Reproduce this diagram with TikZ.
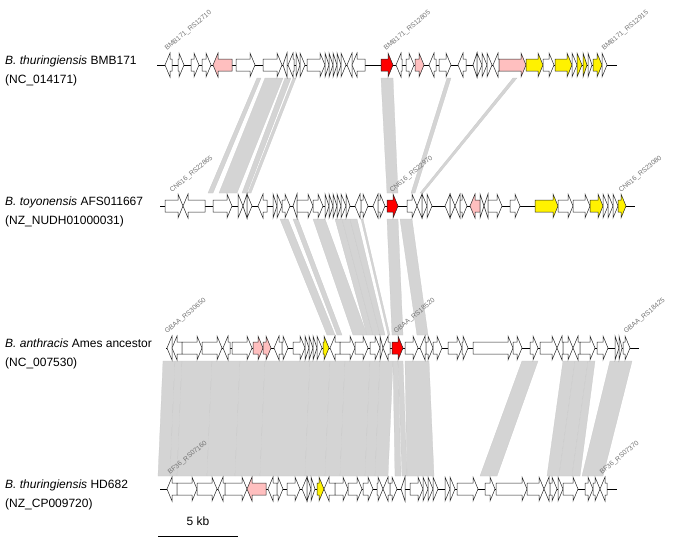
\documentclass[tikz,border=0pt]{standalone}
\usepackage{fontspec}
\setmainfont{Liberation Sans}
\usetikzlibrary{calc}

\tikzset{
  genebox/.style={draw=black!85, line width=0.5pt, line join=miter},
  linkband/.style={fill=black!17, draw=black!21, line width=0.25pt},
  backbone/.style={draw=black, line width=0.7pt},
  genetag/.style={rotate=40, anchor=base west, inner sep=0pt, text=black!55,
    font=\fontsize{6.8}{7}\selectfont},
  spname/.style={anchor=west, align=left, inner sep=0pt,
    font=\fontsize{12}{19}\selectfont}
}

\newcommand\gene[5]{%
  \pgfmathsetmacro\glen{#3-#2}%
  \pgfmathsetmacro\ghead{min(5,\glen)}%
  \ifnum#4>0
    \pgfmathsetmacro\gbase{#3-\ghead}%
    \filldraw[genebox,fill=#5] (#2,#1-6) -- (\gbase,#1-6) -- (\gbase,#1-12)
      -- (#3,#1) -- (\gbase,#1+12) -- (\gbase,#1+6) -- (#2,#1+6) -- cycle;
  \else
    \pgfmathsetmacro\gbase{#2+\ghead}%
    \filldraw[genebox,fill=#5] (#3,#1-6) -- (\gbase,#1-6) -- (\gbase,#1-12)
      -- (#2,#1) -- (\gbase,#1+12) -- (\gbase,#1+6) -- (#3,#1+6) -- cycle;
  \fi}

\newcommand\genelink[6]{%
  \filldraw[linkband] (#3,#1) -- (#4,#1) -- (#6,#2) -- (#5,#2) -- cycle;}

\begin{document}
\begin{tikzpicture}[x=1pt, y=-1pt]
  \useasboundingbox (0,0) rectangle (679,541);

  \foreach \la/\lb/\lc/\ld in
  {257/261/208/213, 265/283/219/237, 285/291/242/247, 293/296/248/251,
   381/393/387/398, 447/451/411/415, 513/517/420/423}
  {\genelink{78}{193}{\la}{\lb}{\lc}{\ld}}

  \foreach \la/\lb/\lc/\ld in
  {280/288/327/335, 293/298/337/342, 313/325/353/367, 335/342/367/373,
   342/350/373/380, 350/357/380/385, 361/363/388/390, 387/398/392/403,
   400/412/417/428}
  {\genelink{219}{335}{\la}{\lb}{\lc}{\ld}}

  \foreach \la/\lb/\lc/\ld in
  {163/175/158/170, 175/182/170/177, 182/212/177/207, 212/240/207/235,
   240/265/235/260, 265/310/260/305, 310/330/305/325, 330/345/325/340,
   345/370/340/365, 370/380/365/375, 380/393/375/388,
   393/398/395/401, 398/403/402/407, 405/429/407/434, 522/538/480/497,
   563/575/547/559, 575/588/559/572, 588/595/572/580, 610/632/582/603}
  {\genelink{361}{476}{\la}{\lb}{\lc}{\ld}}

  \draw
  [backbone]
  (157,65) -- (617,65);

  \draw
  [backbone]
  (160,206) -- (635,206);

  \draw
  [backbone]
  (166,348) -- (639,348);

  \draw
  [backbone]
  (160,489) -- (617,489);

  \foreach \ga/\gb/\gd/\gc in
  {165/172/-1/white, 178/184/1/white, 191/199/1/white, 202/211/1/white,
   213/232/-1/pink, 236/255/1/white, 263/282/1/white, 283/287/-1/white,
   288/294/-1/white, 296/300/1/white, 300/305/1/white, 307/325/1/white,
   325/329/1/white, 329/333/1/white, 333/337/1/white, 337/341/1/white,
   341/346/1/white, 347/352/-1/white, 352/365/-1/white, 381/393/1/red,
   396/402/-1/white, 406/414/1/white, 415/424/1/pink, 429/436/-1/white,
   439/451/1/white, 458/466/-1/white, 473/477/-1/white, 477/482/1/white,
   482/487/1/white, 487/492/1/white, 493/499/-1/white, 499/526/1/pink,
   526/543/1/yellow, 543/554/1/white, 555/572/1/yellow, 572/577/1/white,
   577/582/1/yellow, 583/587/1/yellow, 588/592/1/white, 593/602/1/yellow,
   602/607/1/white}
  {\gene{65}{\ga}{\gb}{\gd}{\gc}}

  \foreach \ga/\gb/\gd/\gc in
  {165/183/1/white, 183/205/-1/white, 213/232/1/white, 238/243/1/white,
   243/247/-1/white, 247/252/1/white, 258/267/-1/white, 273/277/1/white,
   277/282/1/white, 282/290/1/white, 293/297/-1/white, 297/313/1/white,
   313/323/1/white, 325/329/1/white, 329/333/1/white, 333/337/1/white,
   337/341/1/white, 341/346/1/white, 346/350/1/white, 355/361/-1/white,
   361/368/1/white, 373/378/-1/white, 378/385/1/white, 387/398/1/red,
   407/417/1/white, 417/422/-1/white, 422/427/1/white, 427/432/1/white,
   445/450/-1/white, 450/455/1/white, 455/460/-1/white, 460/467/1/white,
   470/480/-1/pink, 480/484/1/white, 484/488/-1/white, 488/502/1/white,
   510/520/1/white, 535/558/1/yellow, 558/573/1/white, 573/590/1/white,
   590/603/1/yellow, 603/608/1/white, 608/613/1/white, 613/618/1/white,
   618/626/1/yellow}
  {\gene{206}{\ga}{\gb}{\gd}{\gc}}

  \foreach \ga/\gb/\gd/\gc in
  {167/172/-1/white, 172/182/-1/white, 182/202/1/white, 202/222/1/white,
   223/230/-1/white, 232/252/1/white, 253/263/1/pink, 263/271/1/pink,
   274/282/-1/white, 282/288/1/white, 293/305/1/white, 305/309/1/white,
   309/313/1/white, 313/317/1/white, 317/322/1/white, 323/329/1/yellow,
   330/340/-1/white, 340/355/1/white, 355/368/1/white, 370/380/1/white,
   380/383/1/white, 383/390/-1/white, 392/403/1/red, 405/418/1/white,
   420/426/-1/white, 426/433/1/white, 433/442/1/white, 448/462/1/white,
   462/468/1/white, 473/513/1/white, 513/522/1/white, 530/538/1/white,
   540/557/1/white, 557/563/-1/white, 563/573/1/white, 573/580/-1/white,
   580/595/1/white, 597/608/1/white, 615/619/1/white, 619/622/1/white,
   623/630/1/white}
  {\gene{348}{\ga}{\gb}{\gd}{\gc}}

  \foreach \ga/\gb/\gd/\gc in
  {167/177/-1/white, 177/197/1/white, 197/217/1/white, 218/225/-1/white,
   225/247/1/white, 247/266/-1/pink, 268/277/-1/white, 277/283/1/white,
   287/300/1/white, 302/307/-1/white, 307/311/1/white, 311/315/1/white,
   317/324/1/yellow, 324/335/-1/white, 335/348/1/white, 348/362/1/white,
   363/373/1/white, 377/383/1/white, 383/390/-1/white, 390/397/1/white,
   401/405/-1/white, 410/423/1/white, 423/428/1/white, 428/433/1/white,
   433/438/1/white, 445/450/1/white, 450/455/1/white, 457/478/1/white,
   485/495/1/white, 496/527/1/white, 527/544/1/white, 544/550/-1/white,
   550/557/1/white, 558/563/1/white, 563/578/1/white, 585/593/1/white,
   593/600/1/white, 600/607/-1/white}
  {\gene{489}{\ga}{\gb}{\gd}{\gc}}

  \node
  [spname]
  (sp1) at (5,70.5) {\textit{B. thuringiensis} BMB171\\(NC\_014171)};

  \node
  [spname]
  (sp2) at (5,211.5) {\textit{B. toyonensis} AFS011667\\(NZ\_NUDH01000031)};

  \node
  [spname]
  (sp3) at (5,354) {\textit{B. anthracis} Ames ancestor\\(NC\_007530)};

  \node
  [spname]
  (sp4) at (5,495) {\textit{B. thuringiensis} HD682\\(NZ\_CP009720)};

  \node [genetag] (tag1a) at (167,51) {BMB171\_RS12710};
  \node [genetag] (tag1b) at (386,51) {BMB171\_RS12805};
  \node [genetag] (tag1c) at (604,51) {BMB171\_RS12915};
  \node [genetag] (tag2a) at (172,193) {CN616\_RS22865};
  \node [genetag] (tag2b) at (392,193) {CN616\_RS22970};
  \node [genetag] (tag2c) at (621,193) {CN616\_RS23080};
  \node [genetag] (tag3a) at (167,334) {GBAA\_RS30650};
  \node [genetag] (tag3b) at (396,334) {GBAA\_RS18520};
  \node [genetag] (tag3c) at (626,334) {GBAA\_RS18425};
  \node [genetag] (tag4a) at (170,475) {BF36\_RS07160};
  \node [genetag] (tag4b) at (602,475) {BF36\_RS07370};

  \coordinate (barL) at (158,536);
  \coordinate (barR) at (238,536);

  \draw
  [line width=1pt]
  (barL) -- (barR);

  \node
  [font=\fontsize{12}{14}\selectfont]
  (barlabel) at ($(barL)!0.5!(barR) + (0,-15)$) {5 kb};
\end{tikzpicture}
\end{document}
